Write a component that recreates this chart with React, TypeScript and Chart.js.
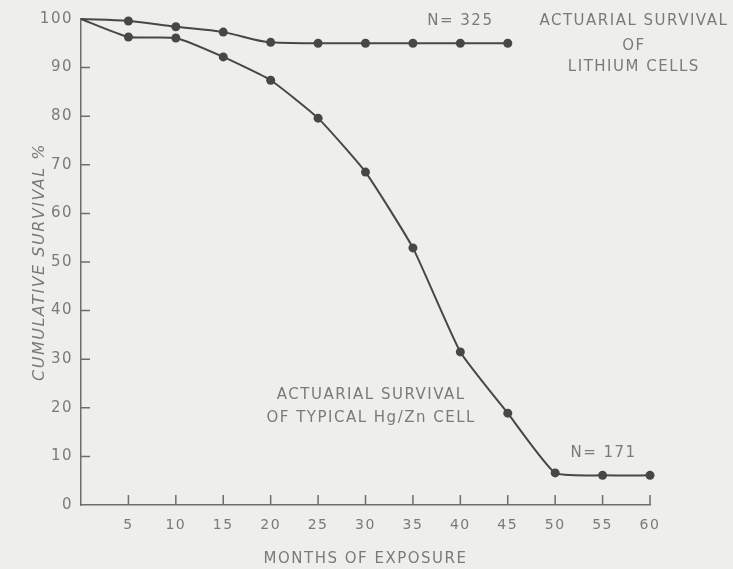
import React, { useEffect, useRef } from "react";
import { Chart, registerables } from "chart.js";

Chart.register(...registerables);

const months = [0, 5, 10, 15, 20, 25, 30, 35, 40, 45, 50, 55, 60];
const lithiumSurvival = [100, 99.6, 98.4, 97.3, 95.2, 95, 95, 95, 95, 95];
const hgZnSurvival = [100, 96.3, 96.1, 92.2, 87.4, 79.6, 68.5, 52.9, 31.5, 18.9, 6.6, 6.1, 6.1];
const xTickValues = [5, 10, 15, 20, 25, 30, 35, 40, 45, 50, 55, 60];
const yTickValues = [10, 20, 30, 40, 50, 60, 70, 80, 90];

const notes = [
  { text: "N= 325", x: 40, y: 99.6 },
  { text: "ACTUARIAL SURVIVAL", x: 58.3, y: 99.6 },
  { text: "OF", x: 58.3, y: 94.4 },
  { text: "LITHIUM CELLS", x: 58.3, y: 90.1 },
  { text: "ACTUARIAL SURVIVAL", x: 30.6, y: 22.6 },
  { text: "OF TYPICAL Hg/Zn CELL", x: 30.6, y: 17.9 },
  { text: "N= 171", x: 55.1, y: 10.7 },
];

const INK = "#474747";
const TEXT = "#7a7a7a";
const FONT = "'DejaVu Sans', sans-serif";

export default function App() {
  const ref = useRef<HTMLCanvasElement | null>(null);

  useEffect(() => {
    const canvas = ref.current;
    if (!canvas) return;

    const spacingPlugin = {
      id: "spacing",
      beforeDraw(chart: any) {
        chart.ctx.letterSpacing = "1.5px";
      },
    };

    const ticksPlugin = {
      id: "inwardTicks",
      afterDraw(chart: any) {
        const ctx = chart.ctx;
        const xs = chart.scales.x;
        const ys = chart.scales.y;
        const { left, bottom } = chart.chartArea;
        ctx.save();
        ctx.strokeStyle = "#6e6e6e";
        ctx.lineWidth = 1.5;
        ctx.beginPath();
        xTickValues.forEach((v) => {
          const px = xs.getPixelForValue(v);
          ctx.moveTo(px, bottom);
          ctx.lineTo(px, bottom - 10);
        });
        yTickValues.forEach((v) => {
          const py = ys.getPixelForValue(v);
          ctx.moveTo(left, py);
          ctx.lineTo(left + 9, py);
        });
        ctx.stroke();

        ctx.fillStyle = TEXT;
        ctx.font = `15px ${FONT}`;
        ctx.letterSpacing = "1.5px";
        ctx.textAlign = "center";
        ctx.textBaseline = "middle";
        notes.forEach((n) => {
          ctx.fillText(n.text, xs.getPixelForValue(n.x), ys.getPixelForValue(n.y));
        });
        ctx.restore();
      },
    };

    const chart = new Chart(canvas, {
      type: "line",
      data: {
        datasets: [
          {
            label: "Lithium cells",
            data: lithiumSurvival.map((v, i) => ({ x: months[i], y: v })),
            borderColor: INK,
            backgroundColor: INK,
            borderWidth: 2,
            pointRadius: lithiumSurvival.map((_, i) => (i === 0 ? 0 : 4.5)),
            pointBackgroundColor: INK,
            pointBorderWidth: 0,
            cubicInterpolationMode: "monotone",
            clip: false as any,
          },
          {
            label: "Hg/Zn cell",
            data: hgZnSurvival.map((v, i) => ({ x: months[i], y: v })),
            borderColor: INK,
            backgroundColor: INK,
            borderWidth: 2,
            pointRadius: hgZnSurvival.map((_, i) => (i === 0 ? 0 : 4.5)),
            pointBackgroundColor: INK,
            pointBorderWidth: 0,
            tension: 0.15,
            clip: false as any,
          },
        ],
      },
      options: {
        responsive: false,
        animation: false,
        events: [],
        layout: { padding: { top: 19, right: 83, left: 0, bottom: 0 } },
        plugins: {
          legend: { display: false },
          tooltip: { enabled: false },
        },
        scales: {
          x: {
            type: "linear",
            min: 0,
            max: 60,
            grid: { display: false, drawTicks: false },
            border: { display: true, color: "#6e6e6e", width: 1.5 },
            ticks: {
              stepSize: 5,
              color: TEXT,
              font: { family: FONT, size: 14 },
              padding: 12,
              maxRotation: 0,
              autoSkip: false,
              callback: (v: any) => (v === 0 ? "" : String(v)),
            },
            title: {
              display: true,
              text: "MONTHS OF EXPOSURE",
              color: TEXT,
              font: { family: FONT, size: 15 },
              padding: { top: 4, bottom: 1 },
            },
            afterFit: (scale: any) => {
              scale.height = 64;
            },
          },
          y: {
            type: "linear",
            min: 0,
            max: 100,
            grid: { display: false, drawTicks: false },
            border: { display: true, color: "#6e6e6e", width: 1.5 },
            ticks: {
              stepSize: 10,
              color: TEXT,
              font: { family: FONT, size: 15 },
              padding: 8,
              autoSkip: false,
            },
            title: {
              display: true,
              text: "CUMULATIVE SURVIVAL %",
              color: TEXT,
              font: { family: FONT, size: 16, style: "italic" },
              padding: { top: 30, bottom: 0 },
            },
            afterFit: (scale: any) => {
              scale.width = 81;
            },
          },
        },
      },
      plugins: [spacingPlugin, ticksPlugin],
    } as any);

    return () => chart.destroy();
  }, []);

  return (
    <div
      style={{
        position: "fixed",
        left: 0,
        top: 0,
        width: 733,
        height: 569,
        background: "#eeeeea",
      }}
    >
      <canvas ref={ref} width={733} height={569} style={{ display: "block" }} />
    </div>
  );
}
